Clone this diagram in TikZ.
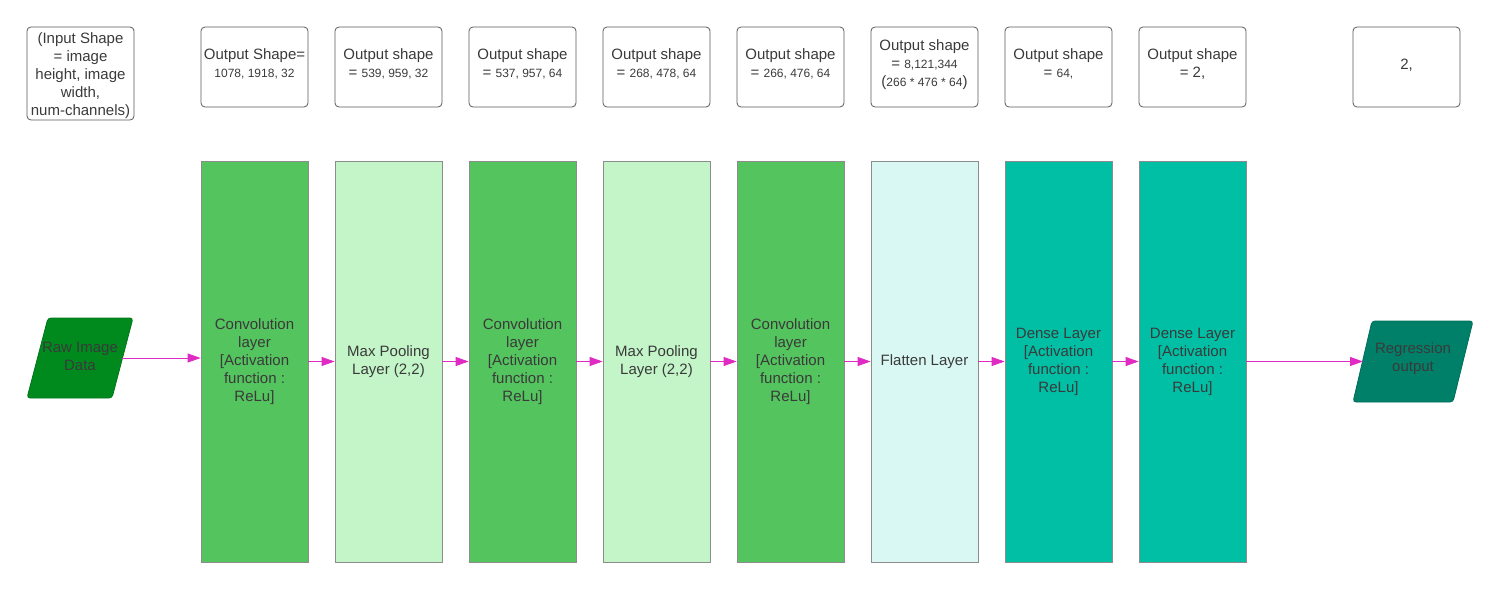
\documentclass[tikz,border=0pt]{standalone}
\usepackage{fontspec}
\setmainfont{Liberation Sans}
\usetikzlibrary{arrows.meta}
\definecolor{convc}{HTML}{54C45E}
\definecolor{poolc}{HTML}{C3F5C8}
\definecolor{flatc}{HTML}{D9F8F3}
\definecolor{densec}{HTML}{00BFA5}
\definecolor{rawc}{HTML}{008A1E}
\definecolor{regc}{HTML}{008069}
\definecolor{magc}{HTML}{E02AC4}
\definecolor{txtc}{HTML}{3A3A3A}
\begin{document}
\begin{tikzpicture}[x=1pt,y=-1pt,
  topbox/.style={draw=black!65, rounded corners=4pt, line width=0.8pt, minimum width=107pt, minimum height=80pt, inner sep=0pt},
  layer/.style={draw=black!45, line width=0.8pt, minimum width=107pt, minimum height=401pt, inner sep=0pt, align=center, text=txtc, font=\fontsize{15}{18}\selectfont},
  lbl/.style={align=center, text=txtc, inner sep=0pt, font=\fontsize{15}{18}\selectfont},
  arr/.style={draw=magc, line width=0.8pt, -{Triangle[length=13pt,width=9pt]}},
  para/.style={line width=0.8pt, rounded corners=3pt}
]
\useasboundingbox (0,0) rectangle (1500,589);
\newcommand{\sm}{\fontsize{12}{18}\selectfont}
% top boxes
\node[topbox, minimum height=93pt] (t0) at (80.5,73.5) {};
\node[lbl] (t0txt) at (80.5,76) {(Input Shape\\= image\\height, image\\width,\\num-channels)};
\node[topbox] (t1) at (254.5,67) {};
\node[topbox] (t2) at (388.5,67) {};
\node[topbox] (t3) at (522.5,67) {};
\node[topbox] (t4) at (656.5,67) {};
\node[topbox] (t5) at (790.5,67) {};
\node[topbox] (t6) at (924.5,67) {};
\node[topbox] (t7) at (1058.5,67) {};
\node[topbox] (t8) at (1192.5,67) {};
\node[topbox] (t9) at (1406.5,67) {};
\node[lbl] (l1) at (254.5,64) {Output Shape=\\{\sm 1078, 1918, 32}};
\node[lbl] (l2) at (388.5,64) {Output shape\\= {\sm 539, 959, 32}};
\node[lbl] (l3) at (522.5,64) {Output shape\\= {\sm 537, 957, 64}};
\node[lbl] (l4) at (656.5,64) {Output shape\\= {\sm 268, 478, 64}};
\node[lbl] (l5) at (790.5,64) {Output shape\\= {\sm 266, 476, 64}};
\node[lbl] (l6) at (924.5,64.5) {Output shape\\= {\sm 8,121,344}\\({\sm 266 * 476 * 64})};
\node[lbl] (l7) at (1058.5,64) {Output shape\\= {\sm 64,}};
\node[lbl] (l8) at (1192.5,64) {Output shape\\= 2,};
\node[lbl] (l9) at (1406.5,65) {2,};
% layers
\node[layer, fill=convc] (c1) at (254.5,361.5) {Convolution\\layer\\{[}Activation\\function :\\ReLu{]}};
\node[layer, fill=poolc] (p1) at (388.5,361.5) {Max Pooling\\Layer (2,2)};
\node[layer, fill=convc] (c2) at (522.5,361.5) {Convolution\\layer\\{[}Activation\\function :\\ReLu{]}};
\node[layer, fill=poolc] (p2) at (656.5,361.5) {Max Pooling\\Layer (2,2)};
\node[layer, fill=convc] (c3) at (790.5,361.5) {Convolution\\layer\\{[}Activation\\function :\\ReLu{]}};
\node[layer, fill=flatc] (f1) at (924.5,361.5) {Flatten Layer};
\node[layer, fill=densec] (d1) at (1058.5,361.5) {Dense Layer\\{[}Activation\\function :\\ReLu{]}};
\node[layer, fill=densec] (d2) at (1192.5,361.5) {Dense Layer\\{[}Activation\\function :\\ReLu{]}};
% parallelograms
\draw[para, fill=rawc, draw=rawc!85!black] (48,318) -- (133,318) -- (112,398) -- (27,398) -- cycle;
\node[lbl] (raw) at (80,356) {Raw Image\\Data};
\draw[para, fill=regc, draw=regc!85!black] (1372,321) -- (1473,321) -- (1453,402) -- (1353,402) -- cycle;
\node[lbl] (reg) at (1413,359) {Regression\\output};
\coordinate (rawout) at (122,358);
\coordinate (regin) at (1363,361.5);
% arrows
\draw[arr] (rawout) -- (rawout -| c1.west);
\draw[arr] (c1.east) -- (p1.west);
\draw[arr] (p1.east) -- (c2.west);
\draw[arr] (c2.east) -- (p2.west);
\draw[arr] (p2.east) -- (c3.west);
\draw[arr] (c3.east) -- (f1.west);
\draw[arr] (f1.east) -- (d1.west);
\draw[arr] (d1.east) -- (d2.west);
\draw[arr] (d2.east) -- (regin);
\end{tikzpicture}
\end{document}
